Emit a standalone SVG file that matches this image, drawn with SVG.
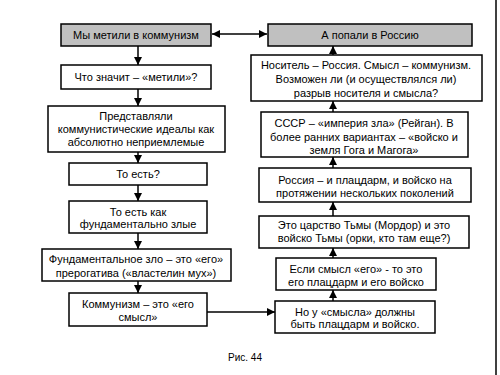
<svg xmlns="http://www.w3.org/2000/svg" width="500" height="375" viewBox="0 0 500 375">
<style>
.b{fill:#fff;stroke:#000;stroke-width:1.5}
.g{fill:#c0c0c0;stroke:#000;stroke-width:1.5}
text{font-family:"Liberation Sans",Arial,sans-serif;font-size:11px;fill:#000;text-anchor:middle}
.c{stroke:#000;stroke-width:1.5;fill:none}
</style>
<defs>
<marker id="ah" viewBox="0 0 10 10" refX="10" refY="5" markerWidth="8" markerHeight="8" markerUnits="userSpaceOnUse" orient="auto-start-reverse">
<path d="M0,0 L10,5 L0,10 Z" fill="#000"/>
</marker>
</defs>
<rect x="0" y="0" width="500" height="375" fill="#fff"/>
<line x1="496" y1="0" x2="496" y2="375" stroke="#000" stroke-width="1.5"/>
<g id="connectors">
<line class="c" x1="212" y1="34" x2="267" y2="34" marker-start="url(#ah)" marker-end="url(#ah)"/>
<line class="c" x1="138" y1="46" x2="138" y2="65" marker-end="url(#ah)"/>
<line class="c" x1="138" y1="89" x2="138" y2="106" marker-end="url(#ah)"/>
<line class="c" x1="138" y1="152" x2="138" y2="163" marker-end="url(#ah)"/>
<line class="c" x1="138" y1="185" x2="138" y2="201" marker-end="url(#ah)"/>
<line class="c" x1="138" y1="233" x2="138" y2="249" marker-end="url(#ah)"/>
<line class="c" x1="138" y1="281" x2="138" y2="293" marker-end="url(#ah)"/>
<line class="c" x1="207" y1="312" x2="275" y2="312" marker-end="url(#ah)"/>
<line class="c" x1="333" y1="301" x2="333" y2="290" marker-end="url(#ah)"/>
<line class="c" x1="333" y1="258" x2="333" y2="248" marker-end="url(#ah)"/>
<line class="c" x1="333" y1="216" x2="333" y2="202" marker-end="url(#ah)"/>
<line class="c" x1="333" y1="168" x2="333" y2="157" marker-end="url(#ah)"/>
<line class="c" x1="333" y1="112" x2="333" y2="101" marker-end="url(#ah)"/>
<line class="c" x1="333" y1="55" x2="333" y2="46" marker-end="url(#ah)"/>
</g>
<g id="n1"><rect class="g" x="61" y="24" width="150" height="22"/><text x="136" y="39">Мы метили в коммунизм</text></g>
<g id="n2"><rect class="b" x="61" y="65" width="150" height="24"/><text x="136" y="81">Что значит – «метили»?</text></g>
<g id="n3"><rect class="b" x="48" y="106" width="177" height="46"/><text x="136" y="120">Представляли</text><text x="136" y="133">коммунистические идеалы как</text><text x="136" y="146">абсолютно неприемлемые</text></g>
<g id="n4"><rect class="b" x="69" y="163" width="138" height="22"/><text x="138" y="178">То есть?</text></g>
<g id="n5"><rect class="b" x="69" y="201" width="138" height="32"/><text x="138" y="216">То есть как</text><text x="138" y="228">фундаментально злые</text></g>
<g id="n6"><rect class="b" x="42" y="249" width="189" height="32"/><text x="136" y="263">Фундаментальное зло – это «его»</text><text x="136" y="277">прерогатива («властелин мух»)</text></g>
<g id="n7"><rect class="b" x="69" y="293" width="138" height="33"/><text x="138" y="308">Коммунизм – это «его</text><text x="138" y="321">смысл»</text></g>
<g id="r1"><rect class="g" x="268" y="24" width="204" height="22"/><text x="370" y="39">А попали в Россию</text></g>
<g id="r2"><rect class="b" x="251" y="55" width="231" height="46"/><text x="366" y="69">Носитель – Россия. Смысл – коммунизм.</text><text x="366" y="83">Возможен ли (и осуществлялся ли)</text><text x="366" y="97">разрыв носителя и смысла?</text></g>
<g id="r3"><rect class="b" x="261" y="112" width="207" height="45"/><text x="364" y="127">СССР – «империя зла» (Рейган). В</text><text x="364" y="141">более ранних вариантах – «войско и</text><text x="364" y="154">земля Гога и Магога»</text></g>
<g id="r4"><rect class="b" x="259" y="168" width="212" height="34"/><text x="365" y="184">Россия – и плацдарм, и войско на</text><text x="365" y="197">протяжении нескольких поколений</text></g>
<g id="r5"><rect class="b" x="259" y="216" width="210" height="32"/><text x="364" y="229">Это царство Тьмы (Мордор) и это</text><text x="364" y="242">войско Тьмы (орки, кто там еще?)</text></g>
<g id="r6"><rect class="b" x="276" y="258" width="160" height="32"/><text x="356" y="273">Если смысл «его» - то это</text><text x="356" y="286">его плацдарм и его войско</text></g>
<g id="r7"><rect class="b" x="275" y="301" width="160" height="32"/><text x="355" y="316">Но у «смысла» должны</text><text x="355" y="328">быть плацдарм и войско.</text></g>
<text x="245" y="361" style="font-size:10px">Рис. 44</text>
</svg>
